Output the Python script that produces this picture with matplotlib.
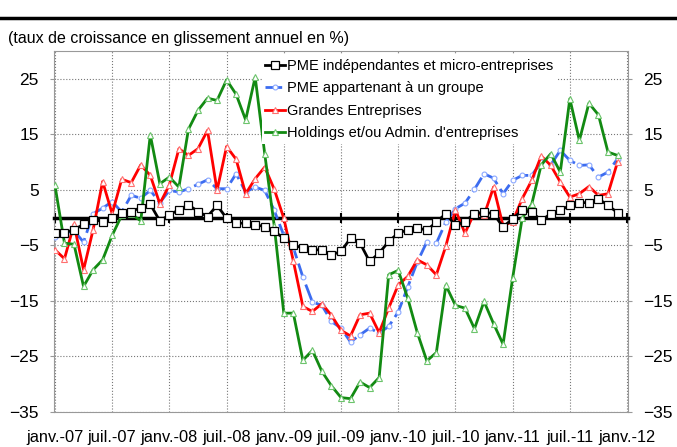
import numpy as np
import matplotlib.pyplot as plt
from matplotlib.lines import Line2D

plt.rcParams['font.family'] = ['Liberation Sans', 'DejaVu Sans']

# mois de janv.-07 a dec.-11
mois = np.arange(60)
ticks_x = np.arange(0, 61, 6)
labels_x = ['janv.-07', 'juil.-07', 'janv.-08', 'juil.-08', 'janv.-09', 'juil.-09',
            'janv.-10', 'juil.-10', 'janv.-11', 'juil.-11', 'janv.-12']
ticks_y = [-35, -25, -15, -5, 5, 15, 25]

pme_indep = [-2.7, -2.7, -2.2, -1.2, -0.4, -0.7, -0.1, 0.8, 1.1, 1.8,
             2.4, -0.6, 0.5, 1.4, 2.3, 1.1, 0.2, 2.2, -0.1, -1.0,
             -1.0, -1.3, -1.6, -2.5, -3.7, -4.9, -5.5, -5.8, -5.8, -6.7,
             -6.1, -3.7, -4.6, -7.9, -6.4, -4.3, -2.8, -2.2, -1.8, -2.3,
             -0.8, 0.7, -1.4, -0.7, 0.7, 1.0, 0.7, -1.7, -0.2, 1.3,
             1.0, -0.5, 0.7, 1.3, 2.2, 2.7, 2.7, 3.4, 2.2, 0.9]
pme_groupe = [-3.5, -2.8, -2.4, -4.4, 0.7, 1.7, 2.9, 1.0, 4.0, 3.5,
              4.9, 2.7, 4.9, 4.6, 5.2, 6.0, 6.8, 5.2, 5.2, 7.9,
              4.6, 5.5, 4.9, 1.3, -3.2, -5.4, -10.7, -15.2, -15.8, -18.7,
              -19.9, -22.4, -21.1, -19.9, -20.8, -19.6, -17.0, -12.5, -8.0, -4.4,
              -4.6, -0.8, 1.6, 2.6, 5.1, 7.9, 7.1, 4.3, 6.7, 7.6,
              7.6, 10.0, 9.5, 12.1, 10.3, 9.4, 9.5, 7.3, 8.2, 10.6]
grandes = [-5.8, -7.4, -1.2, -9.4, -2.2, 6.5, 0.7, 6.9, 6.3, 9.5,
           7.6, 2.5, 5.9, 12.4, 11.2, 12.4, 15.7, 4.9, 12.8, 10.5,
           4.3, 7.0, 9.1, 5.1, -0.1, -7.8, -16.0, -16.9, -15.5, -17.6,
           -20.3, -21.3, -17.5, -17.2, -20.7, -16.3, -12.1, -10.6, -7.6, -8.5,
           -10.3, -5.1, 1.4, -2.8, 0.9, 0.4, 5.5, -1.5, -0.7, 3.4,
           6.7, 11.1, 9.4, 6.4, 3.7, 4.3, 5.6, 4.0, 4.3, 10.0]
holdings = [5.8, -4.6, -4.8, -12.4, -9.4, -7.6, -3.2, 0.4, 0.7, -0.6,
            14.9, 6.1, 7.3, 5.5, 15.9, 19.3, 21.5, 21.1, 24.8, 22.2,
            17.6, 25.3, 11.5, -1.5, -17.2, -17.2, -25.7, -23.9, -27.7, -30.3,
            -32.4, -32.6, -29.6, -30.6, -28.8, -10.3, -9.5, -14.5, -20.7, -25.8,
            -24.3, -12.2, -15.8, -16.3, -20.0, -15.1, -19.1, -22.8, -10.9, -0.1,
            2.4, 9.5, 11.5, 8.2, 21.4, 13.9, 20.6, 18.5, 11.8, 11.2]

fig = plt.figure(figsize=(6.77, 4.47), dpi=100)
ax = fig.add_axes([54 / 677, 1 - 412 / 447, 574 / 677, 361 / 447])

ax.plot(mois, pme_indep, color='black', lw=2, marker='s', ms=5.5,
        mfc='white', mec='black', mew=0.9, label='PME indépendantes et micro-entreprises', zorder=5)
ax.plot(mois, pme_groupe, color='#3c6cf0', lw=2, ls=(0, (6, 2)), marker='o', ms=3.5,
        mfc='white', mec='#8aa8ff', mew=0.8, label='PME appartenant à un groupe', zorder=4)
ax.plot(mois, grandes, color='#ff0000', lw=2, marker='^', ms=5,
        mfc='white', mec='#ff7070', mew=0.8, label='Grandes Entreprises', zorder=4)
ax.plot(mois, holdings, color='#128a12', lw=2, marker='^', ms=5,
        mfc='white', mec='#6cc46c', mew=0.8, label="Holdings et/ou Admin. d'entreprises", zorder=4)

ax.set_xlim(-0.1, 60.1)
ax.set_ylim(-35, 30)
ax.set_yticks(ticks_y)
ax.set_xticks(ticks_x)
ax.grid(True, ls=':', color='#777777', lw=0.8)
ax.set_axisbelow(True)

# axe des abscisses a zero
ax.spines['bottom'].set_position(('data', 0))
ax.spines['bottom'].set_linewidth(2.5)
ax.spines['bottom'].set_zorder(3)
ax.tick_params(axis='x', direction='inout', length=7, width=1.5, labelbottom=False)
for s in ['left', 'top', 'right']:
    ax.spines[s].set_color('#999999')
    ax.spines[s].set_linewidth(0.8)

ax.tick_params(axis='y', length=3, color='#999999', pad=8, labelsize=12.5,
               right=True, labelright=True)

sec = ax.secondary_xaxis('bottom')
sec.set_xticks(ticks_x, labels_x)
sec.tick_params(length=0, pad=13, labelsize=11.8)
sec.spines['bottom'].set_color('#999999')
sec.spines['bottom'].set_linewidth(0.8)

leg = ax.legend(loc='upper left', bbox_to_anchor=(0.362, 0.988), fontsize=10.5,
                handlelength=1.35, handletextpad=0.12, labelspacing=0.58,
                borderpad=0.25, borderaxespad=0, frameon=True, fancybox=False)
leg.get_frame().set_facecolor('white')
leg.get_frame().set_edgecolor('none')
leg.get_frame().set_alpha(1)

fig.add_artist(Line2D([0, 1], [1 - 18 / 447, 1 - 18 / 447], color='black', lw=2.5))
fig.text(8 / 677, 1 - 39 / 447, '(taux de croissance en glissement annuel en %)',
         fontsize=11.5, va='center', ha='left')

fig.savefig('out.png', dpi=100)
